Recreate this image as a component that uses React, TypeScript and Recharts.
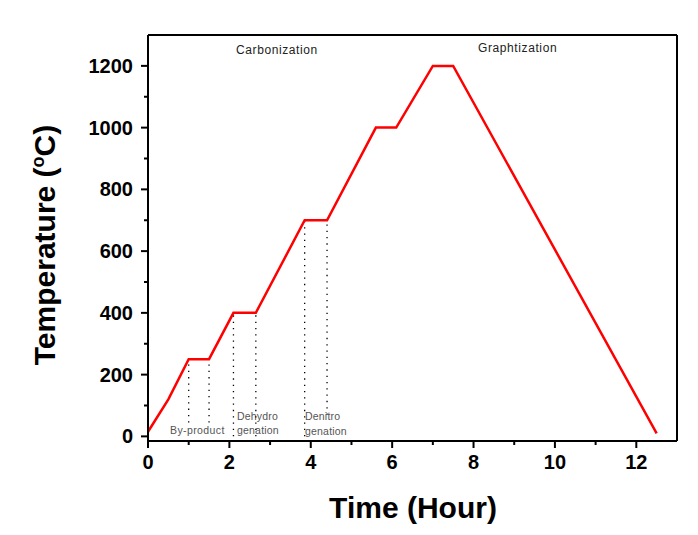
import React from "react";
import {
  LineChart,
  Line,
  XAxis,
  YAxis,
  ReferenceLine,
  Customized,
} from "recharts";

// heat treatment profile
const timeHours = [0, 0.5, 1.0, 1.5, 2.1, 2.65, 3.85, 4.4, 5.6, 6.1, 7.0, 7.5, 12.5];
const tempC = [15, 120, 250, 250, 400, 400, 700, 700, 1000, 1000, 1200, 1200, 10];

// dotted drop lines at the plateau edges
const markerTimes = [1.0, 1.5, 2.1, 2.65, 3.85, 4.4];
const markerTops = [250, 250, 400, 400, 700, 700];
const markerBottoms = [45, 45, 0, 0, 0, 70];

const xTicks = [0, 1, 2, 3, 4, 5, 6, 7, 8, 9, 10, 11, 12];
const yTicks = [0, 100, 200, 300, 400, 500, 600, 700, 800, 900, 1000, 1100, 1200];

const data = timeHours.map((t, i) => ({ time: t, temp: tempC[i] }));

const FONT = "'Liberation Sans', Arial, sans-serif";

const XTick = (props: any) => {
  const { x, y, payload } = props;
  const major = payload.value % 2 === 0;
  const axisY = y - 14;
  return (
    <g>
      <line x1={x} x2={x} y1={axisY} y2={axisY + (major ? 7 : 4)} stroke="#000" strokeWidth={2} />
      {major && (
        <text x={x} y={y} dy="0.71em" textAnchor="middle" fontFamily={FONT} fontWeight="bold" fontSize={20} fill="#000">
          {payload.value}
        </text>
      )}
    </g>
  );
};

const YTick = (props: any) => {
  const { x, y, payload } = props;
  const major = payload.value % 200 === 0;
  const axisX = x + 15;
  return (
    <g>
      <line x1={axisX - (major ? 7 : 4)} x2={axisX} y1={y} y2={y} stroke="#000" strokeWidth={2} />
      {major && (
        <text x={x} y={y} dy="0.35em" textAnchor="end" fontFamily={FONT} fontWeight="bold" fontSize={20} fill="#000">
          {payload.value}
        </text>
      )}
    </g>
  );
};

const Annotations = () => (
  <g fontFamily={FONT}>
    <text x={37} y={237} transform="rotate(-90 47 237)" dx={10} textAnchor="middle" fontSize={30} fontWeight="bold" fill="#000">
      Temperature (<tspan fontSize={18} dy={-11}>o</tspan><tspan dy={11}>C)</tspan>
    </text>
    <text x={405} y={510} textAnchor="middle" fontSize={30} fontWeight="bold" fill="#000">
      Time (Hour)
    </text>
    <text x={228} y={46} fontSize={12} letterSpacing={0.6} fill="#222">Carbonization</text>
    <text x={470} y={44} fontSize={12} letterSpacing={0.6} fill="#222">Graphtization</text>
    <text x={162} y={426} fontSize={10.5} letterSpacing={0.4} fill="#555">By-product</text>
    <text x={229} y={412} fontSize={10.5} letterSpacing={0.2} fill="#555">Dehydro</text>
    <text x={229} y={426} fontSize={10.5} letterSpacing={0.2} fill="#555">genation</text>
    <text x={297} y={412} fontSize={10.5} letterSpacing={0.2} fill="#555">Denitro</text>
    <text x={297} y={427} fontSize={10.5} letterSpacing={0.2} fill="#555">genation</text>
  </g>
);

export default function App() {
  return (
    <LineChart
      width={690}
      height={520}
      data={data}
      margin={{ top: 26, right: 20, left: 0, bottom: 27 }}
    >
      <XAxis
        dataKey="time"
        type="number"
        domain={[0, 13]}
        ticks={xTicks}
        interval={0}
        height={60}
        tickSize={7}
        tickMargin={7}
        tickLine={false}
        axisLine={{ stroke: "#000", strokeWidth: 2 }}
        tick={<XTick />}
      />
      <XAxis
        xAxisId="top"
        orientation="top"
        dataKey="time"
        type="number"
        domain={[0, 13]}
        height={1}
        tick={false}
        tickLine={false}
        axisLine={{ stroke: "#000", strokeWidth: 2 }}
      />
      <YAxis
        type="number"
        domain={[-15, 1300]}
        ticks={yTicks}
        interval={0}
        width={140}
        tickSize={7}
        tickMargin={8}
        tickLine={false}
        axisLine={{ stroke: "#000", strokeWidth: 2 }}
        tick={<YTick />}
      />
      <YAxis
        yAxisId="right"
        orientation="right"
        type="number"
        domain={[-15, 1300]}
        width={1}
        tick={false}
        tickLine={false}
        axisLine={{ stroke: "#000", strokeWidth: 2 }}
      />
      {markerTimes.map((t, i) => (
        <ReferenceLine
          key={`drop-${i}`}
          segment={[
            { x: t, y: markerBottoms[i] },
            { x: t, y: markerTops[i] },
          ]}
          stroke="#000"
          strokeWidth={1.3}
          strokeDasharray="1.3 5"
        />
      ))}
      <Line
        type="linear"
        dataKey="temp"
        stroke="#ff0000"
        strokeWidth={2.5}
        dot={false}
        isAnimationActive={false}
      />
      <Customized component={<Annotations />} />
    </LineChart>
  );
}
